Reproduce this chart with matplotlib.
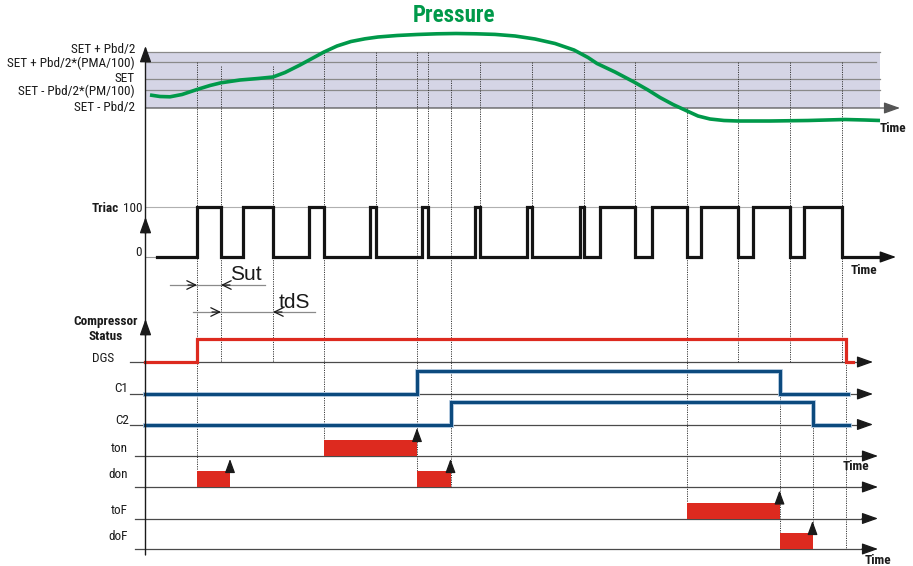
import matplotlib
matplotlib.use('Agg')
import matplotlib.pyplot as plt
from matplotlib import font_manager

# the original uses a narrow sans (Arial Narrow look); take one if installed
installed = {f.name for f in font_manager.fontManager.ttflist}
if 'Liberation Sans Narrow' in installed:
    narrow, fs, fs_title = 'Liberation Sans Narrow', 10, 17.5
elif 'Roboto Condensed' in installed:
    narrow, fs, fs_title = 'Roboto Condensed', 9.5, 16.5
else:
    narrow, fs, fs_title = 'Liberation Sans', 8.7, 15.5
plt.rcParams['font.family'] = [narrow, 'DejaVu Sans']

# --- data (time axis in picture units) ---
pressure_t = [150, 160, 170, 182, 197, 210, 221, 240, 258, 273, 285, 300, 312, 324,
              337, 351, 365, 378, 397, 417, 437, 456, 476, 495, 515, 535, 555, 574,
              588, 597, 615, 634, 648, 660, 673, 686, 698, 710, 724, 738, 770, 808,
              845, 865, 880]
pressure_y = [95, 96.5, 96.8, 94.5, 89.5, 85.5, 82.8, 80, 78.5, 77, 72.5, 65, 58.5, 52,
              46, 41.5, 38.8, 37, 35.5, 34.5, 33.8, 33.5, 33.8, 34.4, 36, 39, 43.5, 50,
              57.5, 63.5, 72, 82, 90, 97.5, 104.5, 110.5, 116, 119, 120.5, 121, 121, 120.5,
              119.5, 120, 120.5]

band_labels = ['SET + Pbd/2', 'SET + Pbd/2*(PMA/100)', 'SET', 'SET - Pbd/2*(PM/100)', 'SET - Pbd/2']
band_y = [52, 62, 79, 90, 108]
band_label_y = [49.5, 63.5, 78.5, 91, 107.5]

triac_on = [197, 243, 309, 370, 421.5, 474.5, 526.5, 579.5, 600, 652, 701, 753, 804]
triac_off = [221, 273, 324, 376, 428, 479.5, 531.5, 583.5, 634.5, 686.5, 737.5, 789.5, 841.5]

dgs_t = [145, 197, 846, 853]
dgs_v = [0, 1, 0, 0]
c1_t = [145, 417, 779.5, 848]
c1_v = [0, 1, 0, 0]
c2_t = [145, 450.5, 812.5, 849]
c2_v = [0, 1, 0, 0]

timer_names = ['ton', 'don', 'toF', 'doF']
ton_bars = [(324, 417)]
don_bars = [(197, 230), (417, 450.5)]
tof_bars = [(686.5, 779.5)]
dof_bars = [(779.5, 812.5)]

guide_t = [197, 221, 273, 324, 376, 417, 428, 450.5, 479.5, 531.5, 583.5, 634.5,
           686.5, 737.5, 789.5, 841.5, 779.5, 812.5, 846]
guide_top = [62, 66, 66, 52, 52, 52, 52, 80, 62, 62, 62, 62, 108, 62, 62, 62, 371, 402, 339]
guide_bot = [470, 362, 362, 440, 207, 487, 207, 487, 207, 207, 207, 257, 502, 362, 362, 362, 533, 527, 549]

# lane layout: (baseline, height)
triac_lane = (257, 50)
dgs_lane = (362, 23)
c1_lane = (394, 23)
c2_lane = (424.5, 22.5)
timer_base = [456, 487, 518.5, 549]
timer_label_y = [449, 474, 511, 537]
bar_h = 16

RED = '#dd2a1f'
BLUE = '#0c4a7e'
GREEN = '#00994a'
INK = '#1a1a1a'

fig = plt.figure(figsize=(9.13, 5.66), dpi=100)
ax = fig.add_axes([0, 0, 1, 1])
ax.set_xlim(0, 913)
ax.set_ylim(566, 0)
ax.axis('off')


def arrow(x0, y0, x1, y1, color=INK, lw=1.0, style='-|>,head_length=0.7,head_width=0.25', ms=14, z=5):
    ax.annotate('', xy=(x1, y1), xytext=(x0, y0), zorder=z,
                arrowprops=dict(arrowstyle=style, color=color, lw=lw, mutation_scale=ms,
                                shrinkA=0, shrinkB=0))


def lane(t, v, ln):
    base, h = ln
    return t, [base - h * x / max(v) for x in v]


# pressure band
ax.axvspan(145.5, 880, ymin=1 - 108 / 566, ymax=1 - 52 / 566, color='#d5d5e6', lw=0, zorder=0)
for lab, y, ly in zip(band_labels, band_y, band_label_y):
    x1 = 876 if y == 62 else 880
    if y != 108:
        ax.plot([145.5, x1], [y, y], color='#8a8a8a', lw=0.9, zorder=1)
    ax.text(135, ly, lab, ha='right', va='center', fontsize=fs, color=INK)
arrow(145.5, 108, 900, 108, color='#555555', lw=0.9, z=1)
ax.plot(pressure_t, pressure_y, color=GREEN, lw=2.6, solid_capstyle='butt', zorder=4)
ax.text(454, 15, 'Pressure', ha='center', va='center', fontsize=fs_title, fontweight='bold', color=GREEN)
ax.text(880, 129, 'Time', ha='left', va='center', fontsize=fs, fontweight='bold', color=INK)

# guide lines
for t, y0, y1 in zip(guide_t, guide_top, guide_bot):
    ax.plot([t, t], [y0, y1], color='#3a3a3a', lw=0.7, ls=(0, (1.2, 1.2)), zorder=2)

# triac
ax.plot([145.5, 842], [207, 207], color='#b0b0b0', lw=0.8, zorder=1)
ax.plot([145.5, 160], [257, 257], color='#999999', lw=0.8, zorder=1)
tri_t = [157]
tri_v = [0]
for a, b in zip(triac_on, triac_off):
    tri_t += [a, b]
    tri_v += [100, 0]
tri_t.append(883)
tri_v.append(0)
tx, ty = lane(tri_t, tri_v, triac_lane)
ax.plot(tx, ty, drawstyle='steps-post', color='#141414', lw=2.3, solid_joinstyle='miter', zorder=6)
arrow(878, 257, 896, 257, color='#141414', lw=1.0, z=6)
ax.text(119, 208, 'Triac', ha='right', va='center', fontsize=fs, fontweight='bold', color=INK)
ax.text(142, 208, '100', ha='right', va='center', fontsize=fs, color=INK)
ax.text(142, 253, '0', ha='right', va='center', fontsize=fs, color=INK)
ax.text(851, 271, 'Time', ha='left', va='center', fontsize=fs, fontweight='bold', color=INK)

# Sut / tdS dimensions
vee = '->,head_length=0.45,head_width=0.22'
ax.plot([170, 265], [285, 285], color='#8a8a8a', lw=0.9, zorder=3)
arrow(188, 285, 197, 285, lw=0.9, style=vee, z=4)
arrow(230, 285, 221, 285, lw=0.9, style=vee, z=4)
ax.text(230, 274, 'Sut', ha='left', va='center', fontsize=15, family='Liberation Sans', color=INK)
ax.plot([193, 315], [312, 312], color='#8a8a8a', lw=0.9, zorder=3)
arrow(212, 312, 221, 312, lw=0.9, style=vee, z=4)
arrow(282, 312, 273, 312, lw=0.9, style=vee, z=4)
ax.text(279, 302, 'tdS', ha='left', va='center', fontsize=15, family='Liberation Sans', color=INK)

# compressor status lanes
ax.text(106, 322, 'Compressor', ha='center', va='center', fontsize=fs, fontweight='bold', color=INK)
ax.text(106, 337, 'Status', ha='center', va='center', fontsize=fs, fontweight='bold', color=INK)
for lab, ln, xr, ty_ in [('DGS', dgs_lane, 114, 359), ('C1', c1_lane, 128, 389), ('C2', c2_lane, 129, 420)]:
    ax.text(xr, ty_, lab, ha='right', va='center', fontsize=fs, color=INK)
    ax.plot([130, 862], [ln[0], ln[0]], color='#4a4a4a', lw=0.9, zorder=1)
    arrow(858, ln[0], 873, ln[0], color=INK, lw=0.9, z=2)

x, y = lane(dgs_t, dgs_v, dgs_lane)
ax.plot(x, y, drawstyle='steps-post', color=RED, lw=2.3, solid_joinstyle='miter', zorder=5)
for t, v, ln in [(c1_t, c1_v, c1_lane), (c2_t, c2_v, c2_lane)]:
    x, y = lane(t, v, ln)
    ax.plot(x, y, drawstyle='steps-post', color='#a9c3dc', lw=3.4, solid_joinstyle='miter', zorder=4)
    ax.plot(x, y, drawstyle='steps-post', color=BLUE, lw=2.2, solid_joinstyle='miter', zorder=5)

# timer lanes
for name, bars, base, ly in zip(timer_names, [ton_bars, don_bars, tof_bars, dof_bars],
                                timer_base, timer_label_y):
    ax.text(128, ly, name, ha='right', va='center', fontsize=fs, color=INK)
    ax.plot([135, 866], [base, base], color='#4a4a4a', lw=0.9, zorder=1)
    arrow(862, base, 878, base, color=INK, lw=0.9, z=2)
    ax.broken_barh([(a, b - a) for a, b in bars], (base - bar_h, bar_h), facecolors=RED, zorder=3)
    for a, b in bars:
        arrow(b, base - bar_h, b, base - bar_h - 12, color=INK, lw=0.9,
              style='-|>,head_length=0.6,head_width=0.22', ms=14, z=6)
ax.text(843, 466, 'Time', ha='left', va='center', fontsize=fs, fontweight='bold', color=INK)
ax.text(865, 561, 'Time', ha='left', va='center', fontsize=fs, fontweight='bold', color=INK)

# vertical axis with its three heads
arrow(145.5, 555, 145.5, 46, color=INK, lw=1.0, z=7)
arrow(145.5, 234, 145.5, 217, color=INK, lw=1.0, z=7)
arrow(145.5, 336, 145.5, 319, color=INK, lw=1.0, z=7)

fig.savefig('out.png', dpi=100)
